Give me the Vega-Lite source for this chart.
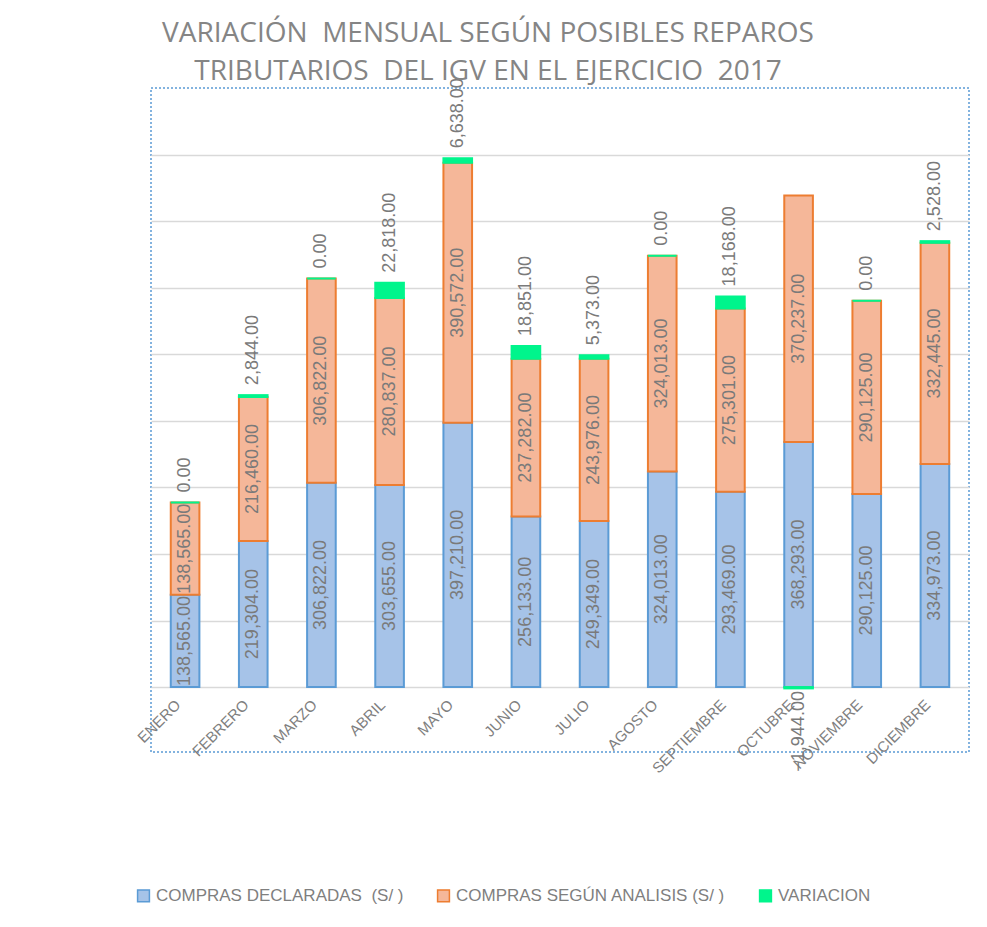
{
  "$schema": "https://vega.github.io/schema/vega-lite/v6.json",
  "width": 818,
  "height": 664,
  "autosize": {"type": "none"},
  "padding": {"left": 151, "top": 88, "right": 18, "bottom": 175},
  "background": "white",
  "title": {
    "text": ["VARIACIÓN\u00a0 MENSUAL SEGÚN POSIBLES REPAROS", "TRIBUTARIOS\u00a0 DEL IGV EN EL EJERCICIO\u00a0 2017"],
    "font": "Open Sans",
    "fontSize": 28,
    "fontWeight": "normal",
    "color": "#858585",
    "lineHeight": 38,
    "anchor": "middle",
    "frame": "group",
    "dx": -72,
    "offset": -8
  },
  "config": {
    "view": {"stroke": "#5b9bd5", "strokeDash": [2, 2], "strokeWidth": 1.5},
    "font": "Liberation Sans"
  },
  "data": {
    "values": [
      {"mes": "ENERO", "serie": "COMPRAS DECLARADAS\u00a0 (S/ )", "valor": 138565},
      {"mes": "ENERO", "serie": "COMPRAS SEGÚN ANALISIS (S/ )", "valor": 138565},
      {"mes": "ENERO", "serie": "VARIACION", "valor": 0},
      {"mes": "FEBRERO", "serie": "COMPRAS DECLARADAS\u00a0 (S/ )", "valor": 219304},
      {"mes": "FEBRERO", "serie": "COMPRAS SEGÚN ANALISIS (S/ )", "valor": 216460},
      {"mes": "FEBRERO", "serie": "VARIACION", "valor": 2844},
      {"mes": "MARZO", "serie": "COMPRAS DECLARADAS\u00a0 (S/ )", "valor": 306822},
      {"mes": "MARZO", "serie": "COMPRAS SEGÚN ANALISIS (S/ )", "valor": 306822},
      {"mes": "MARZO", "serie": "VARIACION", "valor": 0},
      {"mes": "ABRIL", "serie": "COMPRAS DECLARADAS\u00a0 (S/ )", "valor": 303655},
      {"mes": "ABRIL", "serie": "COMPRAS SEGÚN ANALISIS (S/ )", "valor": 280837},
      {"mes": "ABRIL", "serie": "VARIACION", "valor": 22818},
      {"mes": "MAYO", "serie": "COMPRAS DECLARADAS\u00a0 (S/ )", "valor": 397210},
      {"mes": "MAYO", "serie": "COMPRAS SEGÚN ANALISIS (S/ )", "valor": 390572},
      {"mes": "MAYO", "serie": "VARIACION", "valor": 6638},
      {"mes": "JUNIO", "serie": "COMPRAS DECLARADAS\u00a0 (S/ )", "valor": 256133},
      {"mes": "JUNIO", "serie": "COMPRAS SEGÚN ANALISIS (S/ )", "valor": 237282},
      {"mes": "JUNIO", "serie": "VARIACION", "valor": 18851},
      {"mes": "JULIO", "serie": "COMPRAS DECLARADAS\u00a0 (S/ )", "valor": 249349},
      {"mes": "JULIO", "serie": "COMPRAS SEGÚN ANALISIS (S/ )", "valor": 243976},
      {"mes": "JULIO", "serie": "VARIACION", "valor": 5373},
      {"mes": "AGOSTO", "serie": "COMPRAS DECLARADAS\u00a0 (S/ )", "valor": 324013},
      {"mes": "AGOSTO", "serie": "COMPRAS SEGÚN ANALISIS (S/ )", "valor": 324013},
      {"mes": "AGOSTO", "serie": "VARIACION", "valor": 0},
      {"mes": "SEPTIEMBRE", "serie": "COMPRAS DECLARADAS\u00a0 (S/ )", "valor": 293469},
      {"mes": "SEPTIEMBRE", "serie": "COMPRAS SEGÚN ANALISIS (S/ )", "valor": 275301},
      {"mes": "SEPTIEMBRE", "serie": "VARIACION", "valor": 18168},
      {"mes": "OCTUBRE", "serie": "COMPRAS DECLARADAS\u00a0 (S/ )", "valor": 368293},
      {"mes": "OCTUBRE", "serie": "COMPRAS SEGÚN ANALISIS (S/ )", "valor": 370237},
      {"mes": "OCTUBRE", "serie": "VARIACION", "valor": -1944},
      {"mes": "NOVIEMBRE", "serie": "COMPRAS DECLARADAS\u00a0 (S/ )", "valor": 290125},
      {"mes": "NOVIEMBRE", "serie": "COMPRAS SEGÚN ANALISIS (S/ )", "valor": 290125},
      {"mes": "NOVIEMBRE", "serie": "VARIACION", "valor": 0},
      {"mes": "DICIEMBRE", "serie": "COMPRAS DECLARADAS\u00a0 (S/ )", "valor": 334973},
      {"mes": "DICIEMBRE", "serie": "COMPRAS SEGÚN ANALISIS (S/ )", "valor": 332445},
      {"mes": "DICIEMBRE", "serie": "VARIACION", "valor": 2528}
    ]
  },
  "transform": [
    {"stack": "valor", "groupby": ["mes"], "sort": [{"field": "serie", "order": "ascending"}], "as": ["v0", "v1"]},
    {"calculate": "(datum.v0 + datum.v1) / 2", "as": "mid"}
  ],
  "layer": [
    {
      "mark": {"type": "bar", "strokeWidth": 2},
      "encoding": {
        "x": {
          "field": "mes",
          "type": "nominal",
          "sort": null,
          "scale": {"paddingInner": 0.58, "paddingOuter": 0.29},
          "axis": {
            "orient": "bottom",
            "offset": -65,
            "title": null,
            "labelAngle": -45,
            "labelFontSize": 15,
            "labelColor": "#7f7f7f",
            "labelFont": "Liberation Sans",
            "labelOffset": -12,
            "ticks": false,
            "domain": false,
            "labelPadding": 10
          }
        },
        "y": {
          "field": "v0",
          "type": "quantitative",
          "scale": {"domain": [-97500, 900000], "nice": false, "zero": false},
          "axis": {
            "title": null,
            "labels": false,
            "ticks": false,
            "domain": false,
            "values": [0, 100000, 200000, 300000, 400000, 500000, 600000, 700000, 800000],
            "gridColor": "#d9d9d9",
            "gridWidth": 1.5
          }
        },
        "y2": {"field": "v1"},
        "fill": {
          "field": "serie",
          "type": "nominal",
          "scale": {"domain": ["COMPRAS DECLARADAS\u00a0 (S/ )", "COMPRAS SEGÚN ANALISIS (S/ )", "VARIACION"], "range": ["#a6c3e8", "#f5b799", "#00f58c"]},
          "legend": {
            "title": null,
            "orient": "none",
            "legendX": -16,
            "legendY": 799,
            "direction": "horizontal",
            "symbolType": "square",
            "symbolSize": 140,
            "symbolStrokeWidth": 1.5,
            "labelFontSize": 17,
            "labelColor": "#7f7f7f",
            "labelFont": "Liberation Sans",
            "columnPadding": 30,
            "labelLimit": 400
          }
        },
        "stroke": {
          "field": "serie",
          "type": "nominal",
          "scale": {"domain": ["COMPRAS DECLARADAS\u00a0 (S/ )", "COMPRAS SEGÚN ANALISIS (S/ )", "VARIACION"], "range": ["#5b9bd5", "#ed7d31", "#00f58c"]}
        }
      }
    },
    {
      "transform": [{"filter": "datum.serie != 'VARIACION'"}],
      "mark": {"type": "text", "angle": 270, "fontSize": 18, "color": "#7a7a7a", "baseline": "middle", "align": "center"},
      "encoding": {
        "x": {"field": "mes", "type": "nominal", "sort": null},
        "y": {"field": "mid", "type": "quantitative"},
        "text": {"field": "valor", "type": "quantitative", "format": ",.2f"}
      }
    },
    {
      "transform": [{"filter": "datum.serie == 'VARIACION' && datum.valor >= 0"}],
      "mark": {"type": "text", "angle": 270, "fontSize": 18, "color": "#7a7a7a", "baseline": "middle", "align": "left", "dx": 10},
      "encoding": {
        "x": {"field": "mes", "type": "nominal", "sort": null},
        "y": {"field": "v1", "type": "quantitative"},
        "text": {"field": "valor", "type": "quantitative", "format": ",.2f"}
      }
    },
    {
      "transform": [{"filter": "datum.serie == 'VARIACION' && datum.valor < 0"}],
      "mark": {"type": "text", "angle": 270, "fontSize": 18, "color": "#7a7a7a", "baseline": "middle", "align": "right", "dx": -4},
      "encoding": {
        "x": {"field": "mes", "type": "nominal", "sort": null},
        "y": {"field": "v0", "type": "quantitative"},
        "text": {"field": "valor", "type": "quantitative", "format": ",.2f"}
      }
    }
  ]
}
